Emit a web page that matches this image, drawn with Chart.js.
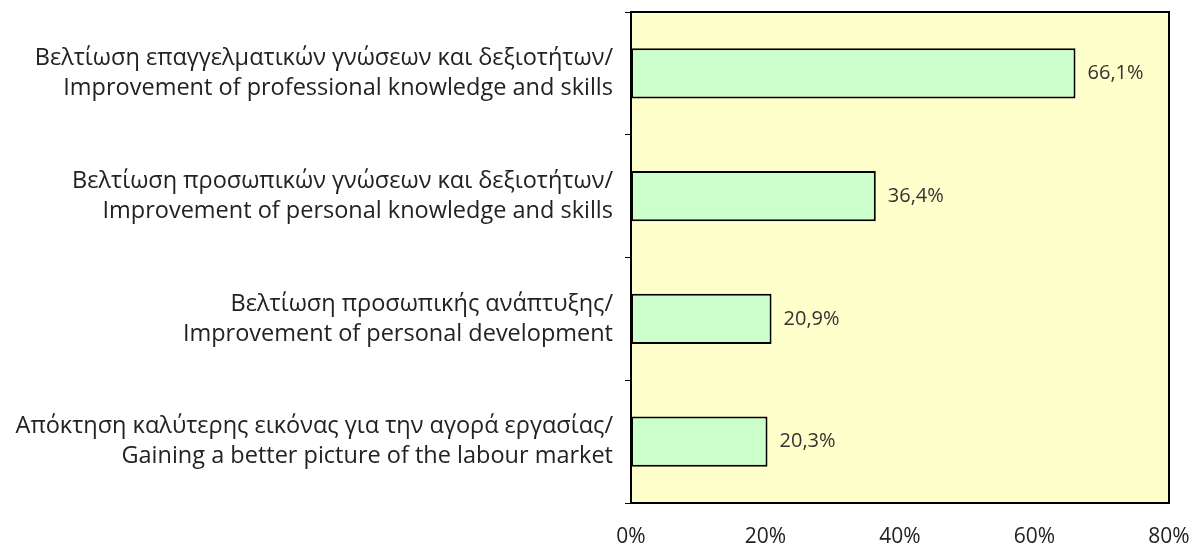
<!DOCTYPE html>
<html><head><meta charset="utf-8">
<script src="https://cdn.jsdelivr.net/npm/chart.js@4/dist/chart.umd.min.js"></script>
<style>html,body{margin:0;padding:0;background:#fff}#wrap{width:1202px;height:547px}</style>
</head><body><div id="wrap"><canvas id="c" width="1202" height="547"></canvas></div>
<script>
const categories = [
  ["Βελτίωση επαγγελματικών γνώσεων και δεξιοτήτων/", "Improvement of professional knowledge and skills"],
  ["Βελτίωση προσωπικών γνώσεων και δεξιοτήτων/", "Improvement of personal knowledge and skills"],
  ["Βελτίωση προσωπικής ανάπτυξης/", "Improvement of personal development"],
  ["Απόκτηση καλύτερης εικόνας για την αγορά εργασίας/", "Gaining a better picture of the labour market"]
];
const values = [66.1, 36.4, 20.9, 20.3];
const valueLabels = ["66,1%", "36,4%", "20,9%", "20,3%"];
const xTicks = [0, 20, 40, 60, 80];

const FONT = "'Open Sans', sans-serif";
const bgPlugin = {
  id: 'bg',
  beforeDraw(chart) {
    const {ctx, chartArea: a} = chart;
    ctx.save(); ctx.fillStyle = '#FFFFCC';
    ctx.fillRect(a.left, a.top, a.right - a.left, a.bottom - a.top);
    ctx.restore();
  },
  afterDraw(chart) {
    const {ctx, chartArea: a} = chart;
    ctx.save(); ctx.strokeStyle = '#000'; ctx.lineWidth = 2;
    ctx.strokeRect(a.left, a.top, a.right - a.left, a.bottom - a.top);
    const meta = chart.getDatasetMeta(0);
    ctx.fillStyle = '#333'; ctx.font = "20px " + FONT;
    ctx.textBaseline = 'middle'; ctx.textAlign = 'left';
    meta.data.forEach((bar, i) => {
      ctx.fillText(valueLabels[i], bar.x + 12, bar.y);
    });
    ctx.restore();
  }
};

new Chart(document.getElementById('c'), {
  type: 'bar',
  data: {
    labels: categories,
    datasets: [{
      data: values,
      backgroundColor: '#CCFFCC',
      borderColor: '#000',
      borderWidth: 2,
      borderSkipped: false,
      categoryPercentage: 1,
      barPercentage: 0.41
    }]
  },
  options: {
    indexAxis: 'y',
    responsive: false,
    animation: false,
    devicePixelRatio: 1,
    layout: { padding: { top: 12, right: 33, left: 0, bottom: 0 } },
    plugins: { legend: { display: false }, tooltip: { enabled: false } },
    scales: {
      x: {
        min: 0, max: 80,
        afterBuildTicks(s) { s.ticks = xTicks.map(v => ({value: v})); },
        afterFit(s) { s.height = 44; s.paddingLeft = 0; s.paddingRight = 0; },
        grid: { display: false },
        border: { display: false },
        ticks: {
          callback: v => v + '%',
          color: '#222', font: { family: FONT, size: 21 }, padding: 13, maxRotation: 0
        }
      },
      y: {
        afterFit(s) { s.width = 631; s.paddingTop = 0; s.paddingBottom = 0; },
        grid: { drawOnChartArea: false, color: '#000', tickLength: 6, offset: true },
        border: { display: false },
        ticks: {
          color: '#222', font: { family: FONT, size: 23.5, lineHeight: 1.28 }, padding: 12
        }
      }
    }
  },
  plugins: [bgPlugin]
});
</script>
</body></html>
